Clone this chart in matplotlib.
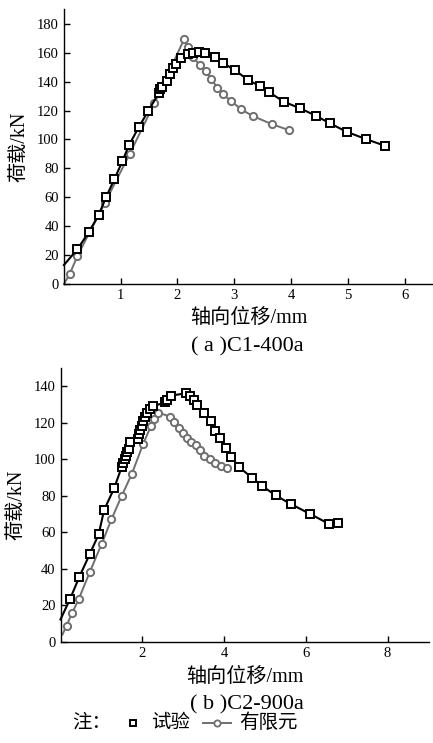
import matplotlib

matplotlib.use('Agg')

import matplotlib.pyplot as plt
from matplotlib.lines import Line2D

plt.rcParams['font.family'] = ['Liberation Serif', 'Noto Sans CJK SC']
plt.rcParams['axes.unicode_minus'] = False

# (a) C1-400a
a_test_x = [0.0, 0.237, 0.436, 0.612, 0.741, 0.888, 1.029, 1.145, 1.316, 1.487, 1.675, 1.691,
            1.733, 1.810, 1.868, 1.927, 1.974, 2.068, 2.190, 2.278, 2.384, 2.489, 2.661, 2.807,
            3.018, 3.247, 3.452, 3.617, 3.875, 4.157, 4.439, 4.685, 4.979, 5.313, 5.654]
a_test_y = [13.1, 24.0, 35.7, 47.7, 59.9, 72.4, 84.8, 95.9, 108.3, 119.8, 132.3, 134.6,
            136.4, 140.6, 145.0, 149.1, 151.9, 156.0, 158.9, 160.0, 160.4, 159.7, 156.7, 152.8,
            147.7, 141.0, 136.9, 132.5, 126.1, 121.5, 116.4, 111.1, 105.3, 100.3, 95.6]
a_fem_x = [0.0, 0.103, 0.237, 0.723, 1.158, 1.592, 2.115, 2.180, 2.279, 2.397, 2.503, 2.597,
           2.702, 2.802, 2.949, 3.113, 3.325, 3.659, 3.958]
a_fem_y = [0.0, 6.9, 19.4, 56.2, 89.9, 124.9, 169.2, 164.1, 156.7, 151.2, 147.5, 141.7,
           135.7, 131.1, 126.5, 121.0, 116.2, 110.6, 106.5]

# (b) C2-900a
b_test_x = [0.0, 0.238, 0.459, 0.721, 0.934, 1.066, 1.311, 1.500, 1.533, 1.574, 1.598, 1.631,
            1.664, 1.697, 1.885, 1.926, 1.951, 1.992, 2.025, 2.066, 2.123, 2.189, 2.262, 2.549,
            2.598, 2.705, 3.066, 3.172, 3.254, 3.336, 3.500, 3.680, 3.770, 3.893, 4.041, 4.180,
            4.377, 4.689, 4.926, 5.262, 5.631, 6.090, 6.557, 6.779]
b_test_y = [12.2, 23.6, 35.5, 48.3, 58.9, 72.2, 84.1, 96.0, 97.8, 100.0, 101.8, 104.0,
            105.8, 109.7, 111.3, 113.9, 116.1, 118.3, 120.8, 123.4, 125.6, 127.4, 129.0, 131.2,
            132.5, 134.9, 136.2, 134.9, 132.3, 129.6, 125.6, 121.0, 115.5, 111.9, 106.0, 101.1,
            95.6, 89.7, 85.5, 80.2, 75.5, 70.2, 64.7, 65.1]
b_fem_x = [0.05, 0.148, 0.279, 0.451, 0.713, 1.008, 1.246, 1.500, 1.746, 2.025, 2.213, 2.295,
           2.393, 2.680, 2.779, 2.893, 3.008, 3.090, 3.189, 3.303, 3.402, 3.516, 3.648, 3.787,
           3.918, 4.066]
b_fem_y = [4.0, 8.8, 15.5, 23.6, 38.0, 53.7, 67.1, 80.1, 92.1, 108.6, 118.3, 122.3,
           125.6, 123.4, 120.3, 117.3, 114.6, 111.9, 109.5, 107.7, 105.1, 101.8, 100.0, 97.8,
           96.3, 95.0]

GRAY = '#6f6f6f'
W, H = 433, 743


def draw(ax, tx, ty, fx, fy):
    ax.plot(fx, fy, '-', color=GRAY, lw=1.4, marker='o', ms=5.2, mfc='white', mec=GRAY,
            mew=1.4, markevery=list(range(1, len(fx))), clip_on=False, zorder=2)
    ax.plot(tx, ty, '-', color='black', lw=1.5, marker='s', ms=5.2, mfc='white', mec='black',
            mew=1.4, markevery=list(range(1, len(tx))), clip_on=False, zorder=3)
    for s in ['top', 'right']:
        ax.spines[s].set_visible(False)
    ax.spines['left'].set_linewidth(1.0)
    ax.spines['bottom'].set_linewidth(1.0)
    ax.tick_params(direction='in', length=4, width=1.0, labelsize=10.5)
    ax.set_ylabel('荷载/kN', fontsize=14.5, labelpad=5)


fig = plt.figure(figsize=(W / 100, H / 100), dpi=100)

ax1 = fig.add_axes([63.9 / W, (H - 284) / H, (433 - 63.9) / W, 274.7 / H])
draw(ax1, a_test_x, a_test_y, a_fem_x, a_fem_y)
ax1.set_xlim(0, 6.5)
ax1.set_ylim(0, 190)
ax1.set_xticks([1, 2, 3, 4, 5, 6])
ax1.set_yticks(range(0, 181, 20))
ax1.set_xlabel('轴向位移/mm', fontsize=14.5, labelpad=5)

ax2 = fig.add_axes([60.5 / W, (H - 641.7) / H, 368 / W, 273.6 / H])
draw(ax2, b_test_x, b_test_y, b_fem_x, b_fem_y)
ax2.set_xlim(0, 9)
ax2.set_ylim(0, 150)
ax2.set_xticks([2, 4, 6, 8])
ax2.set_yticks(range(0, 141, 20))
ax2.set_xlabel('轴向位移/mm', fontsize=14.5, labelpad=6)

fig.text(247 / W, 1 - 347 / H, '( a )C1-400a', ha='center', va='center', fontsize=16)
fig.text(247 / W, 1 - 705 / H, '( b )C2-900a', ha='center', va='center', fontsize=16)

# legend note
ly = 1 - 723 / H
fig.text(92 / W, ly, '注：', ha='center', va='center', fontsize=14)
fig.add_artist(Line2D([133 / W], [ly], marker='s', ms=5, mfc='white', mec='black', mew=1.4,
                      transform=fig.transFigure))
fig.text(151 / W, ly, '试验', ha='left', va='center', fontsize=14)
fig.add_artist(Line2D([203 / W, 231 / W], [ly, ly], color=GRAY, lw=1.4, transform=fig.transFigure))
fig.add_artist(Line2D([217 / W], [ly], marker='o', ms=4.5, mfc='white', mec=GRAY, mew=1.3,
                      transform=fig.transFigure))
fig.text(239 / W, ly, '有限元', ha='left', va='center', fontsize=14)

fig.savefig('out.png', dpi=100)
